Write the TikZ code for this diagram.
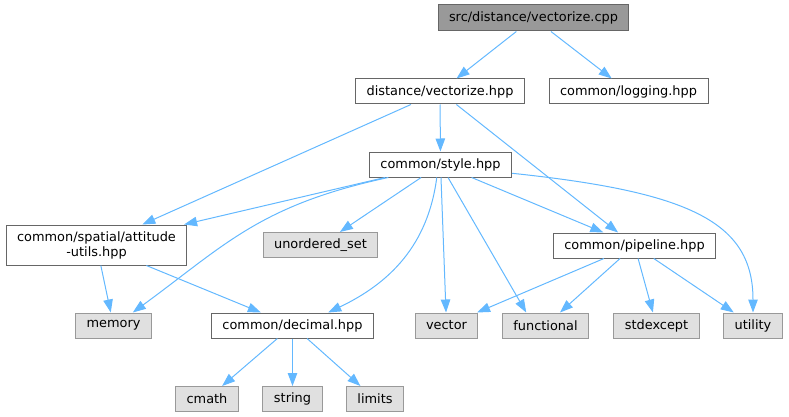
\documentclass[tikz,border=0pt]{standalone}
\usepackage{fontspec}
\setmainfont{DejaVu Sans}
\usetikzlibrary{arrows.meta}
\definecolor{edgeblue}{HTML}{63B8FF}
\definecolor{rootgray}{HTML}{999999}
\definecolor{extgray}{HTML}{E0E0E0}
\definecolor{boxline}{HTML}{666666}
\definecolor{extline}{HTML}{999999}

\begin{document}
\begin{tikzpicture}[x=1pt, y=-1pt]
\tikzset{file/.style={draw=boxline, fill=white, line width=1pt, minimum height=25pt, inner xsep=11pt, inner ysep=0pt, font=\fontsize{12.9}{15}\selectfont, align=center}}
\tikzset{rootfile/.style={file, fill=rootgray, minimum height=26pt}}
\tikzset{sysfile/.style={file, draw=extline, fill=extgray}}
\tikzset{dep/.style={draw=edgeblue, line width=1pt, -{Triangle[length=13pt, width=9.5pt]}}}
\useasboundingbox (0,0) rectangle (789,417);
\node[rootfile] (cpp) at (533.5,18) {src/distance/vectorize.cpp};
\node[file] (dv) at (440,91.5) {distance/vectorize.hpp};
\node[file] (logging) at (628.5,91.5) {common/logging.hpp};
\node[file] (style) at (440.5,164.5) {common/style.hpp};
\node[file, minimum height=40pt] (attitude) at (96.5,245) {common/spatial/attitude\\-utils.hpp};
\node[sysfile] (uset) at (320.5,245) {unordered\_set};
\node[file] (pipeline) at (634.5,245.5) {common/pipeline.hpp};
\node[sysfile] (memory) at (113.5,325.5) {memory};
\node[file] (decimal) at (292.5,325.5) {common/decimal.hpp};
\node[sysfile] (vector) at (446.5,325.5) {vector};
\node[sysfile] (functional) at (545.5,325.5) {functional};
\node[sysfile] (stdexcept) at (656.5,325.5) {stdexcept};
\node[sysfile] (utility) at (753,325.5) {utility};
\node[sysfile] (cmath) at (207,399) {cmath};
\node[sysfile] (string) at (292.5,399) {string};
\node[sysfile] (limits) at (375,399) {limits};
\draw[dep] (cpp) -- (dv);
\draw[dep] (cpp) -- (logging);
\draw[dep] (dv) -- (style);
\draw[dep] (dv) -- (attitude);
\draw[dep] (dv) -- (pipeline);
\draw[dep] (style) -- (attitude);
\draw[dep] (style) -- (uset);
\draw[dep] (style.194) .. controls (260,205) and (225,245) .. (memory.34);
\draw[dep] (style.-106) .. controls (428,245) and (390,283) .. (decimal.20);
\draw[dep] (style) -- (vector);
\draw[dep] (style) -- (functional.146);
\draw[dep] (style) -- (pipeline);
\draw[dep] (style.-7) .. controls (690,192) and (753,222) .. (utility.north);
\draw[dep] (attitude) -- (memory);
\draw[dep] (attitude) -- (decimal);
\draw[dep] (pipeline) -- (vector);
\draw[dep] (pipeline) -- (functional);
\draw[dep] (pipeline) -- (stdexcept);
\draw[dep] (pipeline) -- (utility);
\draw[dep] (decimal) -- (cmath);
\draw[dep] (decimal) -- (string);
\draw[dep] (decimal) -- (limits);
\end{tikzpicture}
\end{document}
